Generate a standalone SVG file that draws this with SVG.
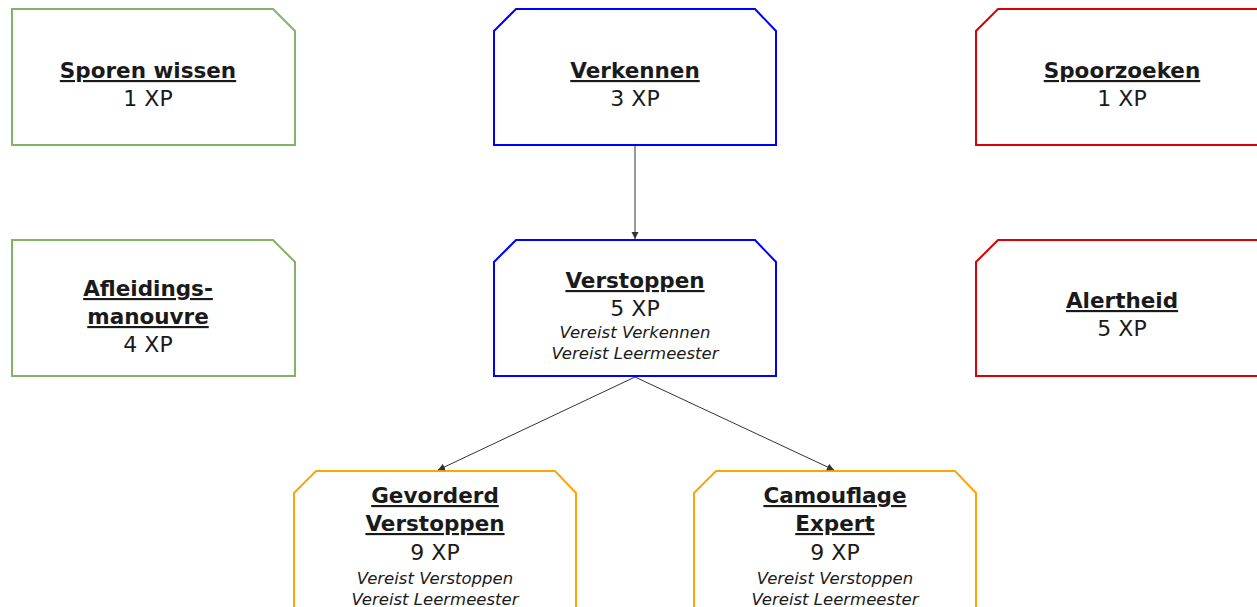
<svg xmlns="http://www.w3.org/2000/svg" width="1257" height="607" viewBox="0 0 1257 607">
<style>
.box{fill:#fff;stroke-width:2}
.g{stroke:#82b366}.b{stroke:#0000ff}.r{stroke:#dd0000}.o{stroke:#ffa500}
text{font-family:"DejaVu Sans",sans-serif;text-anchor:middle;fill:#1a1a1a}
.t{font-weight:bold;font-size:21.5px;text-decoration:underline}
.x{font-size:22px}
.i{font-style:italic;font-size:16.5px}
.c{stroke:#333;stroke-width:1;fill:none;marker-end:url(#ah)}
</style>
<defs>
<marker id="ah" markerWidth="8" markerHeight="8" refX="7" refY="4" orient="auto" markerUnits="userSpaceOnUse">
<path d="M0,0.5 L7,4 L0,7.5 Z" fill="#333"/>
</marker>
</defs>
<rect width="1257" height="607" fill="#fff"/>
<g id="sporen-wissen">
<path class="box g" d="M12,9 H273 L295,31 V145 H12 Z"/>
<text class="t" x="148" y="78">Sporen wissen</text>
<text class="x" x="148" y="106">1 XP</text>
</g>
<g id="verkennen">
<path class="box b" d="M516,9 H755 L776,31 V145 H494 V31 Z"/>
<text class="t" x="635" y="78">Verkennen</text>
<text class="x" x="635" y="106">3 XP</text>
</g>
<g id="spoorzoeken">
<path class="box r" d="M998,9 H1259 V145 H976 V31 Z"/>
<text class="t" x="1122" y="78">Spoorzoeken</text>
<text class="x" x="1122" y="106">1 XP</text>
</g>
<g id="afleidingsmanouvre">
<path class="box g" d="M12,240 H273 L295,262 V376 H12 Z"/>
<text class="t" x="148" y="296">Afleidings-</text>
<text class="t" x="148" y="324">manouvre</text>
<text class="x" x="148" y="352">4 XP</text>
</g>
<g id="verstoppen">
<path class="box b" d="M516,240 H755 L776,262 V376 H494 V262 Z"/>
<text class="t" x="635" y="288">Verstoppen</text>
<text class="x" x="635" y="316">5 XP</text>
<text class="i" x="635" y="338">Vereist Verkennen</text>
<text class="i" x="635" y="359">Vereist Leermeester</text>
</g>
<g id="alertheid">
<path class="box r" d="M998,240 H1259 V376 H976 V262 Z"/>
<text class="t" x="1122" y="308">Alertheid</text>
<text class="x" x="1122" y="336">5 XP</text>
</g>
<g id="gevorderd-verstoppen">
<path class="box o" d="M316,471 H555 L576,493 V609 H294 V493 Z"/>
<text class="t" x="435" y="503">Gevorderd</text>
<text class="t" x="435" y="531">Verstoppen</text>
<text class="x" x="435" y="560">9 XP</text>
<text class="i" x="435" y="584">Vereist Verstoppen</text>
<text class="i" x="435" y="605">Vereist Leermeester</text>
</g>
<g id="camouflage-expert">
<path class="box o" d="M716,471 H955 L976,493 V609 H694 V493 Z"/>
<text class="t" x="835" y="503">Camouflage</text>
<text class="t" x="835" y="531">Expert</text>
<text class="x" x="835" y="560">9 XP</text>
<text class="i" x="835" y="584">Vereist Verstoppen</text>
<text class="i" x="835" y="605">Vereist Leermeester</text>
</g>
<g id="connectors">
<path class="c" d="M635,146 V239"/>
<path class="c" d="M635,377 L438,470"/>
<path class="c" d="M635,377 L834,470"/>
</g>
</svg>
